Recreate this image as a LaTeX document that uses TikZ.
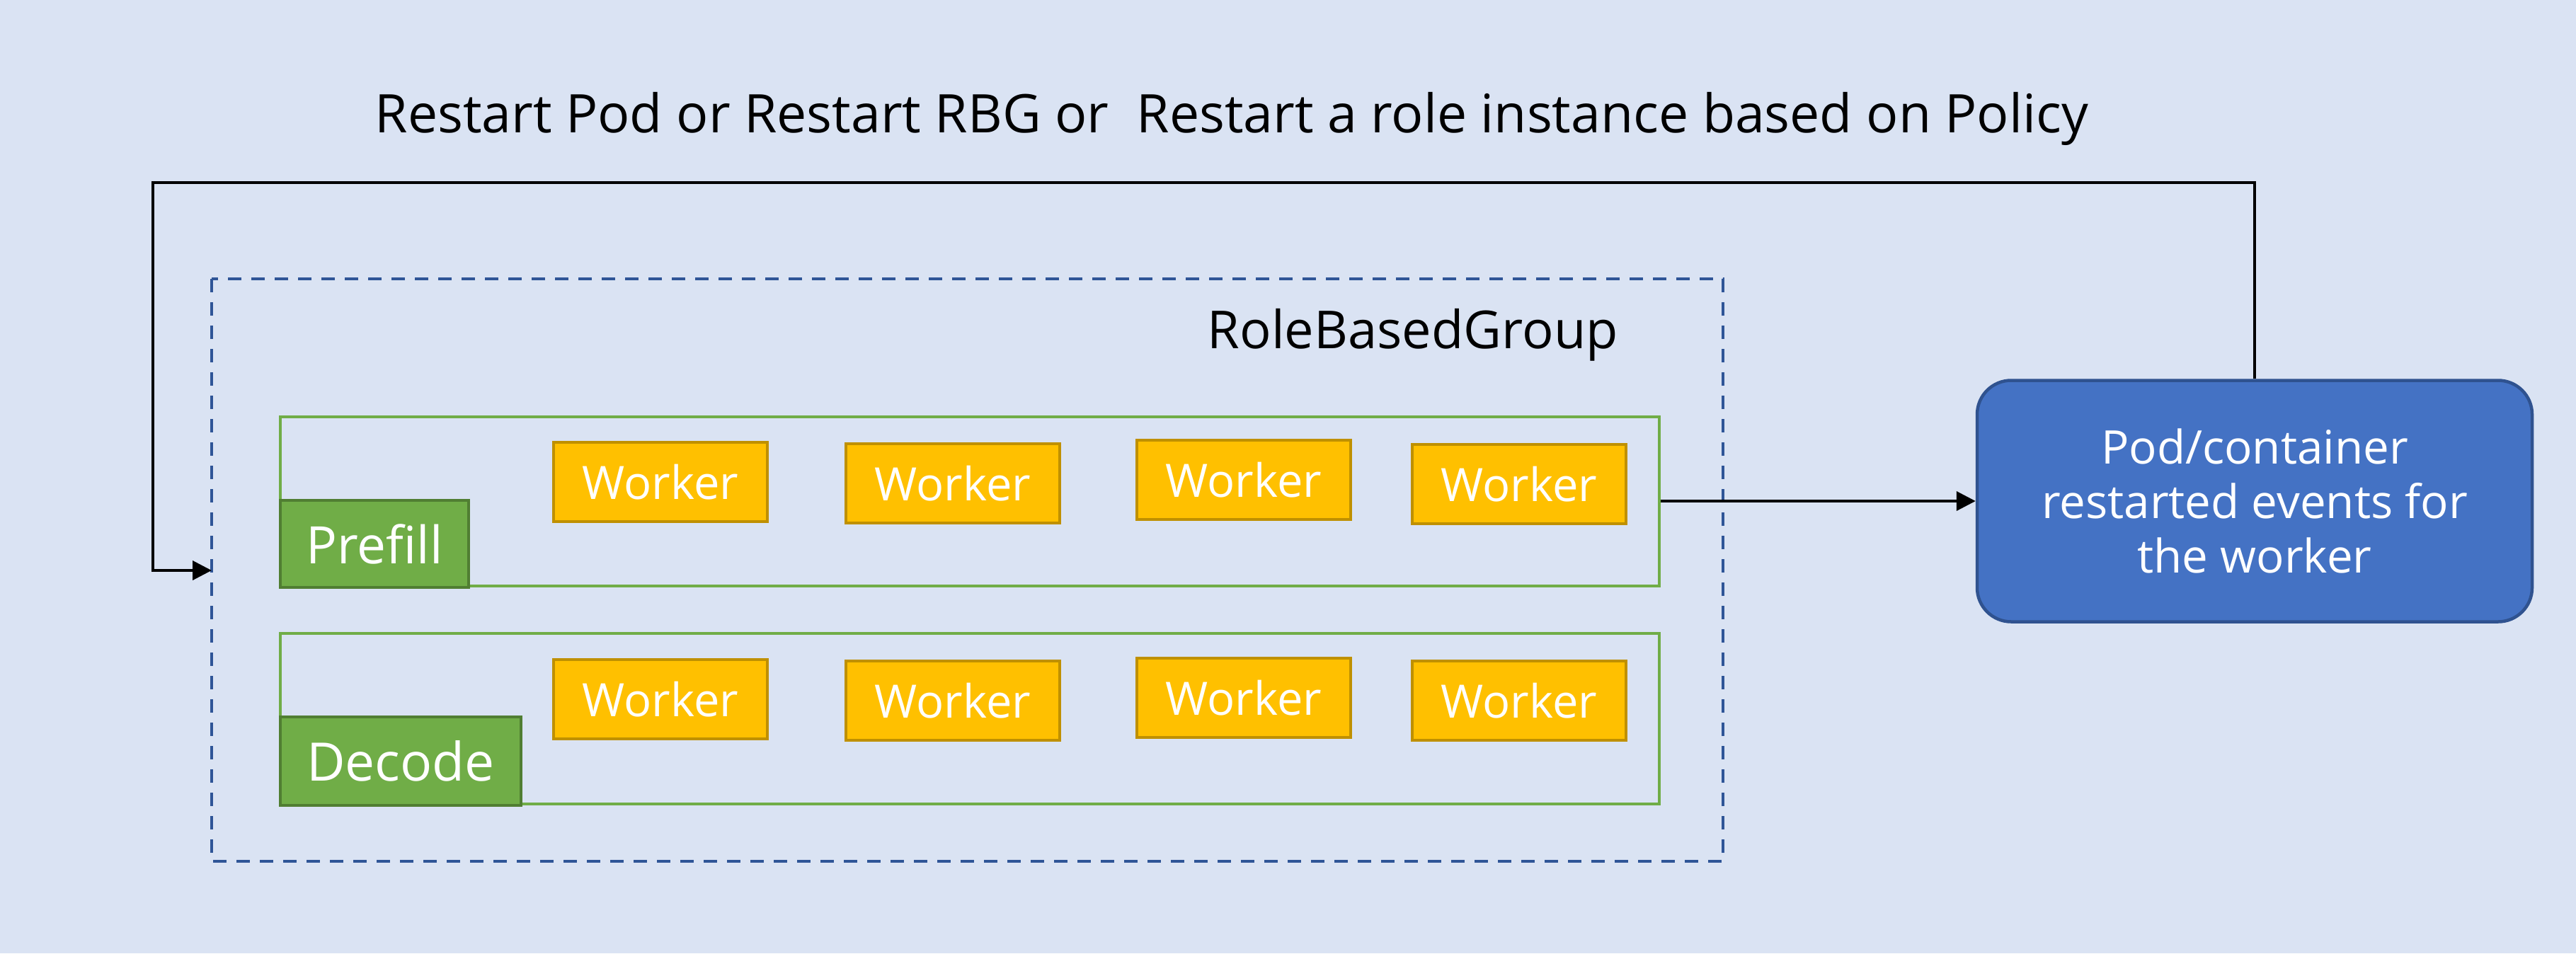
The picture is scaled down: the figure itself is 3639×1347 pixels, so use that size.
\documentclass[tikz,border=0pt]{standalone}
\usepackage{fontspec}
\setmainfont{Open Sans}
\usetikzlibrary{arrows.meta}
\definecolor{bgc}{HTML}{DAE3F3}
\definecolor{dashc}{HTML}{2F5597}
\definecolor{grpc}{HTML}{70AD47}
\definecolor{lblb}{HTML}{507E32}
\definecolor{wkf}{HTML}{FFC000}
\definecolor{wkb}{HTML}{BF9000}
\definecolor{evf}{HTML}{4472C4}
\definecolor{evb}{HTML}{2F528F}
\tikzset{
  worker/.style={draw=wkb, fill=wkf, line width=4.5pt, minimum width=302pt, minimum height=112pt, inner sep=0pt, text=white, font=\fontsize{65}{78}\selectfont},
  group/.style={draw=grpc, line width=4pt},
  rolelbl/.style={draw=lblb, fill=grpc, line width=4pt, inner sep=0pt, text=white},
  conn/.style={line width=4pt, -{Triangle[length=27pt,width=27pt]}},
}
\begin{document}
\begin{tikzpicture}[x=1pt,y=-1pt]
\useasboundingbox (0,0) rectangle (3639,1347);
\fill[bgc] (0,0) rectangle (3639,1347);
% title
\node[anchor=base, inner sep=0pt, font=\fontsize{75.2}{88}\selectfont] (title) at (1740,187) {Restart Pod or Restart RBG or\ \ Restart a role instance based on Policy};
% RoleBasedGroup
\draw[dashc, line width=4.5pt, dash pattern=on 19pt off 14pt] (299,394) rectangle (2434,1217);
\node[anchor=base east, inner sep=0pt, font=\fontsize{74}{86}\selectfont] (rbg) at (2286,492) {RoleBasedGroup};
% groups
\node[group, minimum width=1948pt, minimum height=239pt, inner sep=0pt] (pgrp) at (1370,708) {};
\node[group, minimum width=1948pt, minimum height=241pt, inner sep=0pt] (dgrp) at (1370,1015.5) {};
\node[rolelbl, minimum width=266pt, minimum height=123pt, font=\fontsize{73}{84}\selectfont] (prefill) at (529,768.5) {Prefill};
\node[rolelbl, minimum width=340pt, minimum height=125pt, font=\fontsize{75}{86}\selectfont] (decode) at (566,1075.5) {Decode};
% workers
\node[worker] (p1) at (933,681) {Worker};
\node[worker] (p2) at (1346,683) {Worker};
\node[worker] (p3) at (1757,678) {Worker};
\node[worker] (p4) at (2146,684) {Worker};
\node[worker] (d1) at (933,988) {Worker};
\node[worker] (d2) at (1346,990) {Worker};
\node[worker] (d3) at (1757,986) {Worker};
\node[worker] (d4) at (2146,990) {Worker};
% events box
\node[draw=evb, fill=evf, line width=4.5pt, rounded corners=48pt, minimum width=784pt, minimum height=341pt, inner sep=0pt, text=white, align=center, font=\fontsize{65.5}{77}\selectfont] (ev) at (3185,708) {Pod/container\\restarted events for\\the worker};
\coordinate (fbin) at (299,806);
% connectors
\draw[conn] (pgrp.east) -- (ev.west);
\draw[conn] (ev.north) |- (216,258) |- (fbin);
\end{tikzpicture}
\end{document}
